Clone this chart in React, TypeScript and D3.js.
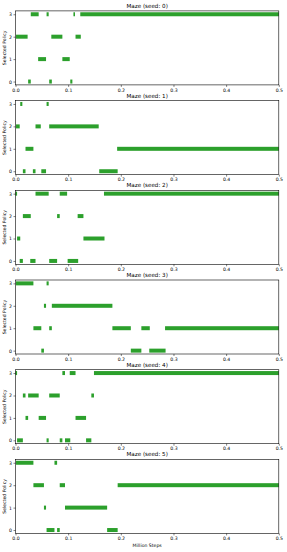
import * as d3 from "d3";
import {useRef, useEffect} from "react";

// segments: [policy, start (M steps), end (M steps)]
const seed0 = [
  [3, 0.029, 0.044], [3, 0.059, 0.063], [3, 0.110, 0.113], [3, 0.123, 0.5],
  [2, 0.001, 0.023], [2, 0.068, 0.089], [2, 0.114, 0.124],
  [1, 0.043, 0.058], [1, 0.089, 0.103],
  [0, 0.024, 0.029], [0, 0.064, 0.069], [0, 0.104, 0.108],
];
const seed1 = [
  [3, 0.009, 0.013], [3, 0.059, 0.063],
  [2, 0.001, 0.008], [2, 0.038, 0.048], [2, 0.064, 0.158],
  [1, 0.019, 0.034], [1, 0.193, 0.5],
  [0, 0.014, 0.019], [0, 0.033, 0.038], [0, 0.049, 0.058], [0, 0.159, 0.194],
];
const seed2 = [
  [3, 0.0, 0.003], [3, 0.038, 0.063], [3, 0.084, 0.098], [3, 0.168, 0.5],
  [2, 0.014, 0.029], [2, 0.079, 0.084], [2, 0.118, 0.129],
  [1, 0.003, 0.009], [1, 0.129, 0.169],
  [0, 0.008, 0.014], [0, 0.028, 0.038], [0, 0.064, 0.079], [0, 0.099, 0.119],
];
const seed3 = [
  [3, 0.001, 0.034], [3, 0.059, 0.063],
  [2, 0.054, 0.058], [2, 0.069, 0.184],
  [1, 0.034, 0.049], [1, 0.064, 0.069], [1, 0.184, 0.219], [1, 0.239, 0.255], [1, 0.284, 0.5],
  [0, 0.049, 0.054], [0, 0.219, 0.239], [0, 0.254, 0.285],
];
const seed4 = [
  [3, 0.0, 0.003], [3, 0.089, 0.094], [3, 0.103, 0.114], [3, 0.149, 0.5],
  [2, 0.014, 0.019], [2, 0.024, 0.044], [2, 0.064, 0.084], [2, 0.144, 0.149],
  [1, 0.019, 0.024], [1, 0.044, 0.058], [1, 0.114, 0.134],
  [0, 0.003, 0.014], [0, 0.059, 0.063], [0, 0.084, 0.089], [0, 0.094, 0.104], [0, 0.134, 0.144],
];
const seed5 = [
  [3, 0.001, 0.034], [3, 0.074, 0.079],
  [2, 0.034, 0.054], [2, 0.084, 0.094], [2, 0.194, 0.5],
  [1, 0.054, 0.058], [1, 0.094, 0.174],
  [0, 0.059, 0.074], [0, 0.079, 0.084], [0, 0.174, 0.194],
];
const seeds = [seed0, seed1, seed2, seed3, seed4, seed5];
const policyTicks = [0, 1, 2, 3];
const stepTicks = [0, 0.1, 0.2, 0.3, 0.4, 0.5];

const width = 287;
const height = 552;
const left = 15.5;
const right = 278.8;
const top0 = 10.9;
const step = 89.7;
const axH = 74;
const green = "#2ca02c";
const font = "DejaVu Sans, sans-serif";

export default function App() {
  const ref = useRef(null);
  useEffect(() => {
    const svg = d3.select(ref.current);
    svg.selectAll("*").remove();
    const x = d3.scaleLinear().domain([0, 0.5]).range([left, right]);

    seeds.forEach((segs, k) => {
      const top = top0 + k * step;
      const y = d3.scaleLinear().domain([-0.15, 3.15]).range([top + axH, top]);
      const g = svg.append("g");

      g.append("text")
        .attr("x", (left + right) / 2)
        .attr("y", top - 3)
        .attr("text-anchor", "middle")
        .attr("font-size", 5.6)
        .attr("font-family", font)
        .text(`Maze (seed: ${k})`);

      g.append("g")
        .selectAll("rect")
        .data(segs)
        .join("rect")
        .attr("x", d => x(d[1]))
        .attr("width", d => Math.max(1, x(d[2]) - x(d[1])))
        .attr("y", d => y(d[0]) - 2)
        .attr("height", 4)
        .attr("fill", green);

      const yAxis = d3.axisLeft(y).tickValues(policyTicks).tickFormat(d3.format("d")).tickSize(2).tickPadding(1.5);
      g.append("g")
        .attr("transform", `translate(${left},0)`)
        .call(yAxis)
        .call(a => a.select(".domain").remove())
        .call(a => a.selectAll("line").attr("stroke-width", 0.5))
        .call(a => a.selectAll("text").attr("font-size", 4.6).attr("font-family", font));

      const xAxis = d3.axisBottom(x).tickValues(stepTicks).tickFormat(d3.format(".1f")).tickSize(2).tickPadding(1.5);
      g.append("g")
        .attr("transform", `translate(0,${top + axH})`)
        .call(xAxis)
        .call(a => a.select(".domain").remove())
        .call(a => a.selectAll("line").attr("stroke-width", 0.5))
        .call(a => a.selectAll("text").attr("font-size", 4.6).attr("font-family", font));

      g.append("rect")
        .attr("x", left)
        .attr("y", top)
        .attr("width", right - left)
        .attr("height", axH)
        .attr("fill", "none")
        .attr("stroke", "#000")
        .attr("stroke-width", 0.6);

      g.append("text")
        .attr("transform", `translate(5.5,${top + axH / 2}) rotate(-90)`)
        .attr("text-anchor", "middle")
        .attr("font-size", 4.6)
        .attr("font-family", font)
        .text("Selected Policy");
    });

    svg.append("text")
      .attr("x", (left + right) / 2)
      .attr("y", top0 + 5 * step + axH + 14)
      .attr("text-anchor", "middle")
      .attr("font-size", 4.6)
      .attr("font-family", font)
      .text("Million Steps");
  }, []);

  return (
    <svg ref={ref} width={width} height={height}
      style={{position: "absolute", left: 0, top: 0, background: "#fff"}} />
  );
}
